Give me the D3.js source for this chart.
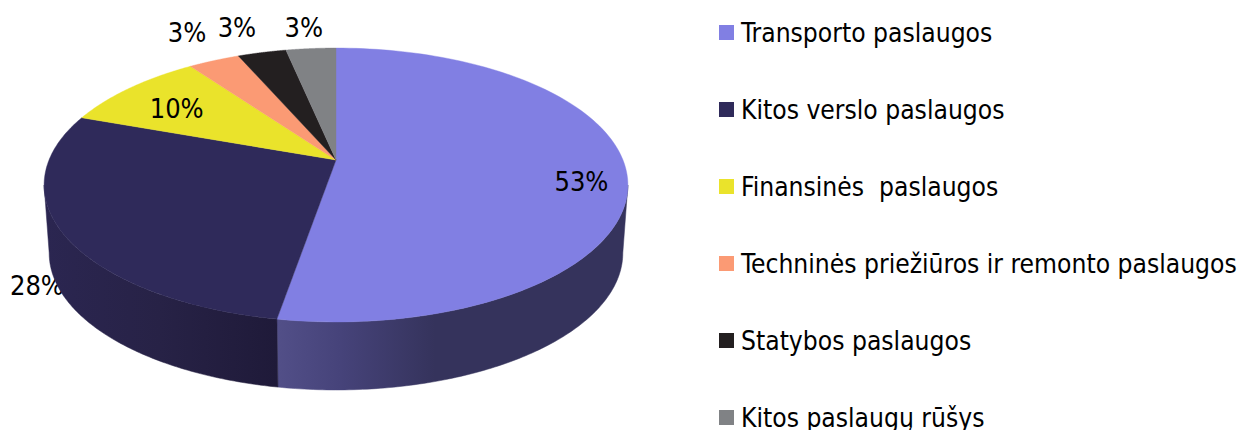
<!DOCTYPE html>
<html><head><meta charset="utf-8">
<script src="https://cdn.jsdelivr.net/npm/d3@7/dist/d3.min.js"></script>
<style>html,body{margin:0;padding:0;background:#fff;overflow:hidden}
text{font-family:"DejaVu Sans Condensed","DejaVu Sans",sans-serif;fill:#000}</style>
</head><body><svg id="c" width="1237" height="430"></svg>
<script>
(function(){
const categories=["Transporto paslaugos","Kitos verslo paslaugos","Finansinės\u00a0 paslaugos","Techninės priežiūros ir remonto paslaugos","Statybos paslaugos","Kitos paslaugų rūšys"];
const shares=[52.7,27.8,9.6,3.4,3.2,3.3];
const labels=["53%","28%","10%","3%","3%","3%"];
const colors=["#817fe3","#2f2a5a","#eae32b","#fb9a74","#231f20","#808285"];
const labelNudgeX=[-45,-26,47,-27,-25,-7];
const labelNudgeY=[10,52,20,-28,-24.5,-20.5];

const svg=d3.select("#c");
const k=0.1825;
function projector(cx,cy,A,B){return (a,r=1)=>{const X=r*Math.sin(a),Y=r*Math.cos(a),d=1+k*Y;return [cx+A*X/d,cy-B*Y/d];};}
const upper=projector(336,160,287,132.4);
const lower=projector(336,228,282,132.4);
const arcs=d3.pie().sort(null).value(d=>d)(shares);
const line=d3.line();
const samples=(p,a,b)=>d3.range(0,121).map(i=>p(a+(b-a)*i/120));

const defs=svg.append("defs");
function grad(id,x1,x2,stops){const g=defs.append("linearGradient").attr("id",id).attr("gradientUnits","userSpaceOnUse").attr("x1",x1).attr("x2",x2).attr("y1",0).attr("y2",0);
 stops.forEach(s=>g.append("stop").attr("offset",s[0]).attr("stop-color",s[1]));}
grad("wA",277,628,[[0,"#524f88"],[.18,"#46437a"],[.45,"#35335c"],[1,"#35335c"]]);
grad("wB",43,277,[[0,"#2b2651"],[.5,"#272246"],[1,"#1f1a39"]]);

const labelPos=arcs.map((d,i)=>{const m=(d.startAngle+d.endAngle)/2,p=upper(m);return [p[0]+labelNudgeX[i],p[1]+labelNudgeY[i]];});
function drawLabel(i){svg.append("text").attr("x",labelPos[i][0]).attr("y",labelPos[i][1]).attr("dy",".35em").attr("text-anchor","middle").attr("font-size",27).text(labels[i]);}
drawLabel(1);

// the rim's widest points on screen lie slightly on the near side of the disc's axis
const extreme=Math.PI/2+Math.asin(k);
function wall(a,b,fill){
 const pts=samples(upper,a,b).concat(samples(lower,a,b).reverse());
 svg.append("path").attr("d",line(pts)+"Z").attr("fill",fill).attr("stroke",fill).attr("stroke-width",.5);
}
wall(extreme,arcs[0].endAngle,"url(#wA)");
wall(arcs[1].startAngle,2*Math.PI-extreme,"url(#wB)");

arcs.forEach((d,i)=>{
 const pts=[upper(0,0)].concat(samples(upper,d.startAngle,d.endAngle));
 svg.append("path").attr("d",line(pts)+"Z").attr("fill",colors[i]).attr("stroke",colors[i]).attr("stroke-width",.4);
});
[0,2,3,4,5].forEach(drawLabel);

const y=d3.scalePoint().domain(categories).range([32.5,417.5]);
categories.forEach((c,i)=>{
 svg.append("rect").attr("x",719).attr("y",y(c)-7.5).attr("width",15).attr("height",15).attr("fill",colors[i]);
 svg.append("text").attr("x",741).attr("y",y(c)).attr("dy",".35em").attr("font-size",26.2).text(c);
});
})();
</script></body></html>
